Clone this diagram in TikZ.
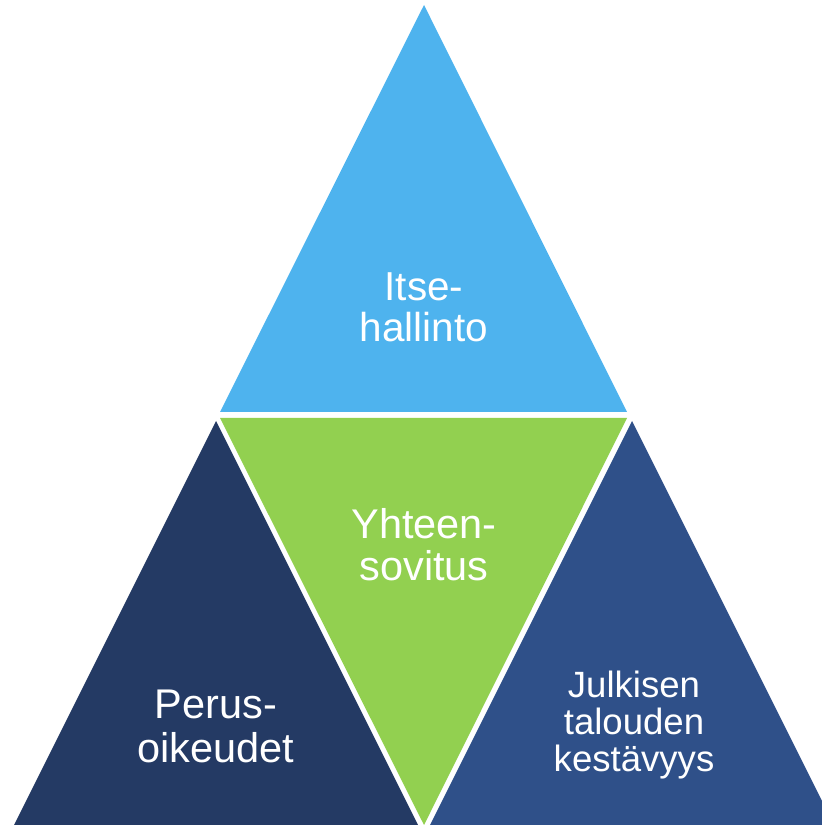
\documentclass[tikz,border=0pt]{standalone}
\usepackage{fontspec}
\setmainfont{Liberation Sans}
\usepackage{tikz}
\usetikzlibrary{positioning,calc}

\definecolor{skyblue}{HTML}{4EB3EE}
\definecolor{leafgreen}{HTML}{92D050}
\definecolor{navydark}{HTML}{243A64}
\definecolor{navymid}{HTML}{2F5089}

\begin{document}
\begin{tikzpicture}[
    x=0.01cm, y=-0.01cm,
    piece/.style={draw=none},
    label/.style={text=white, align=center, inner sep=0pt},
]
    \useasboundingbox (0,0) rectangle (822,825);
    \clip (0,0) rectangle (822,825);

    % Corner points
    \coordinate (topapex) at (424,5);
    \coordinate (midleft) at (220,412);
    \coordinate (midright) at (627,412);
    \coordinate (greenleft) at (220,418);
    \coordinate (greenright) at (627,418);
    \coordinate (greenapex) at (424,825);

    % Triangles
    \fill[piece, skyblue] (topapex) -- (midright) -- (midleft) -- cycle;
    \fill[piece, leafgreen] (greenleft) -- (greenright) -- (greenapex) -- cycle;
    \fill[piece, navydark] (216,421) -- (418,825) -- (14,825) -- cycle;
    \fill[piece, navymid] (632,421) -- (834,825) -- (430,825) -- cycle;

    % Labels
    \node[label, font=\fontsize{11.5}{11.7}\selectfont] (itse) at (424,307) {Itse-\\hallinto};
    \node[label, font=\fontsize{11.8}{12}\selectfont] (yhteen) at (424,545) {Yhteen-\\sovitus};
    \node[label, font=\fontsize{11.8}{12.5}\selectfont] (perus) at (216,726) {Perus-\\oikeudet};
    \node[label, font=\fontsize{10.4}{10.5}\selectfont] (julkisen) at (634,725) {Julkisen\\talouden\\kestävyys};
\end{tikzpicture}
\end{document}
